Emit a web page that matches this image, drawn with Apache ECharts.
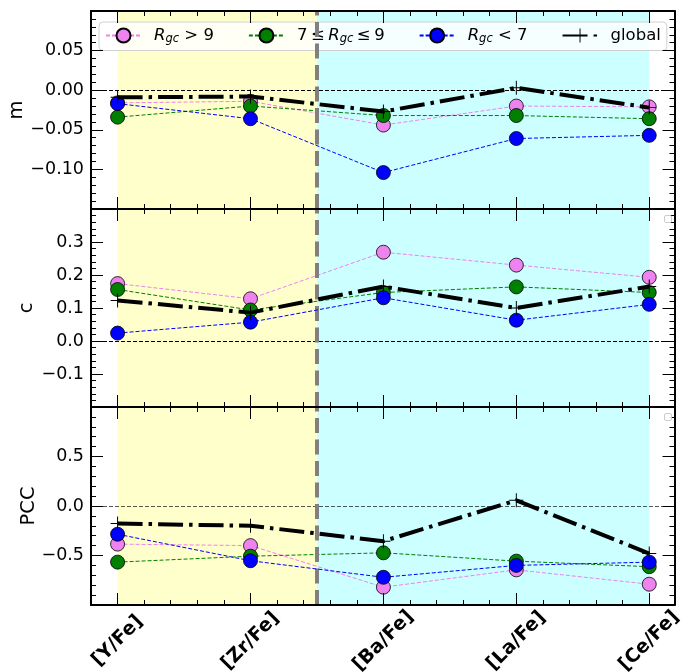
<!DOCTYPE html>
<html><head><meta charset="utf-8">
<script src="https://cdn.jsdelivr.net/npm/echarts@6/dist/echarts.min.js"></script>
<style>html,body{margin:0;padding:0;background:#fff}#c{width:685px;height:672px}</style>
</head><body><div id="c"></div>
<script>
// ---- data ----
const categories = ['[Y/Fe]', '[Zr/Fe]', '[Ba/Fe]', '[La/Fe]', '[Ce/Fe]'];
const seriesNames = ['outer', 'mid', 'inner', 'global'];

const mOuter  = [-0.016, -0.014, -0.044, -0.020, -0.021];
const mMid    = [-0.034, -0.020, -0.032, -0.032, -0.036];
const mInner  = [-0.017, -0.036, -0.104, -0.061, -0.057];
const mGlobal = [-0.009, -0.008, -0.027, 0.003, -0.022];

const cOuter  = [0.174, 0.128, 0.269, 0.230, 0.193];
const cMid    = [0.156, 0.094, 0.147, 0.164, 0.147];
const cInner  = [0.024, 0.057, 0.131, 0.063, 0.111];
const cGlobal = [0.123, 0.086, 0.165, 0.100, 0.165];

const pccOuter  = [-0.385, -0.400, -0.820, -0.645, -0.790];
const pccMid    = [-0.567, -0.507, -0.473, -0.557, -0.613];
const pccInner  = [-0.285, -0.553, -0.720, -0.600, -0.567];
const pccGlobal = [-0.177, -0.200, -0.355, 0.057, -0.480];

const yTickInfo = {
  m:   {min: -0.15, max: 0.10, interval: 0.05, digits: 2},
  c:   {min: -0.2,  max: 0.4,  interval: 0.1,  digits: 1},
  PCC: {min: -1,    max: 1,    interval: 0.5,  digits: 1}
};

// ---- layout / style ----
const FONT = 'DejaVu Sans';
const X_MIN = -0.2, X_MAX = 4.19;
const colors = ['#EE82EE', '#008000', '#0000FF'];
const PLUS = 'path://M-0.07,-1H0.07V-0.07H1V0.07H0.07V1H-0.07V0.07H-1V-0.07H-0.07Z';

const panels = [
  {name: 'm',   gap: 64, data: [mOuter, mMid, mInner, mGlobal], zero: '#000'},
  {name: 'c',   gap: 54, data: [cOuter, cMid, cInner, cGlobal], zero: '#000'},
  {name: 'PCC', gap: 52, data: [pccOuter, pccMid, pccInner, pccGlobal], zero: 'rgba(0,0,0,0.65)'}
];
const gridTops = [11, 209, 407];
const gridH = [198, 198, 198];

const majorX = categories.map((_, i) => i);
const minorX = [];
for (let k = -1; k <= 21; k++) {
  const v = +(k * 0.2).toFixed(2);
  if (v > X_MIN && v < X_MAX && Math.abs(v - Math.round(v)) > 1e-6) minorX.push(v);
}
function fmt(v, d) {
  const s = Math.abs(v).toFixed(d);
  return (v < -1e-9 ? '\u2212' : '') + s;
}

function xAx(g, pos, major, labels) {
  return {
    type: 'value', gridIndex: g, position: pos, min: X_MIN, max: X_MAX, z: 10,
    axisLine: {show: major, onZero: false, lineStyle: {color: '#000', width: 2}},
    axisTick: {show: true, inside: true, length: major ? 12 : 5,
      customValues: major ? majorX : minorX, lineStyle: {color: '#000', width: 1}},
    axisLabel: labels ? {
      show: true, customValues: majorX, formatter: v => categories[Math.round(v)],
      rotate: 45, align: 'center', verticalAlign: 'middle', margin: 36,
      fontWeight: 'bold', fontSize: 19, color: '#000', fontFamily: FONT
    } : {show: false},
    splitLine: {show: false}
  };
}
function yAx(g, p, pos, labels) {
  const t = yTickInfo[p.name];
  return {
    type: 'value', gridIndex: g, position: pos, min: t.min, max: t.max, interval: t.interval, z: 10,
    axisLine: {show: true, onZero: false, lineStyle: {color: '#000', width: 2}},
    axisTick: {show: true, inside: true, length: 12, lineStyle: {color: '#000', width: 1}},
    minorTick: {show: true, splitNumber: 5, length: 5, lineStyle: {color: '#000', width: 1}},
    axisLabel: labels ? {
      show: true, showMinLabel: false, showMaxLabel: false, margin: 7,
      fontSize: 17.5, color: '#000', fontFamily: FONT, formatter: v => fmt(v, t.digits)
    } : {show: false},
    name: labels ? p.name : '', nameLocation: 'middle', nameGap: p.gap, nameMoveOverlap: false,
    nameTextStyle: {fontSize: 19.5, color: '#000', fontFamily: FONT},
    splitLine: {show: false}, minorSplitLine: {show: false}
  };
}

const xAxis = [], yAxis = [], series = [];
panels.forEach((p, g) => {
  xAxis.push(xAx(g, 'bottom', true, g === 2));
  xAxis.push(xAx(g, 'bottom', false, false));
  xAxis.push(xAx(g, 'top', true, false));
  xAxis.push(xAx(g, 'top', false, false));
  yAxis.push(yAx(g, p, 'left', true));
  yAxis.push(yAx(g, p, 'right', false));
  const xi = g * 4, yi = g * 2;
  series.push({
    type: 'line', xAxisIndex: xi, yAxisIndex: yi, data: [], z: 1, silent: true,
    markArea: {silent: true, data: [
      [{xAxis: 0, itemStyle: {color: 'rgb(255,255,204)'}}, {xAxis: 1.5}],
      [{xAxis: 1.5, itemStyle: {color: 'rgb(204,255,255)'}}, {xAxis: 4}]
    ]},
    markLine: {silent: true, symbol: 'none', label: {show: false}, animation: false,
      data: [
        {yAxis: 0, lineStyle: {color: p.zero, width: 1, type: [4, 2]}},
        {xAxis: 1.5, lineStyle: {color: '#808080', width: 4, type: [15, 6.5]}}
      ]}
  });
  [0, 1, 2].forEach(k => series.push({
    name: seriesNames[k], type: 'line', xAxisIndex: xi, yAxisIndex: yi, z: 3 + k,
    data: p.data[k].map((v, i) => [i, v]),
    symbol: 'circle', symbolSize: 14,
    itemStyle: {color: colors[k], borderColor: '#000', borderWidth: 0.8},
    lineStyle: {color: colors[k], width: 1, type: [4, 2]},
    emphasis: {disabled: true}
  }));
  series.push({
    name: 'global', type: 'line', xAxisIndex: xi, yAxisIndex: yi, z: 7,
    data: p.data[3].map((v, i) => [i, v]),
    symbol: PLUS, symbolSize: 14,
    itemStyle: {color: '#000', borderWidth: 0},
    lineStyle: {color: '#000', width: 4, type: [25, 6, 3.5, 6], cap: 'butt'},
    emphasis: {disabled: true}
  });
});

const legendLabels = {
  outer: '{g|}{i|R}{s|gc}{t| > 9}',
  mid: '{g|}{t|7}{h|}{t|\u2264}{h|}{i|R}{s|gc}{h|}{t|\u2264}{h|}{t|9}',
  inner: '{g|}{i|R}{s|gc}{t| < 7}',
  global: '{g|}{t|global}'
};

const option = {
  animation: false,
  textStyle: {fontFamily: FONT},
  grid: gridTops.map((t, i) => ({left: 91, right: 10.5, top: t, height: gridH[i],
    containLabel: false, outerBoundsMode: 'none'})),
  xAxis, yAxis, series,
  legend: {
    data: seriesNames, left: 99, top: 22, orient: 'horizontal',
    itemWidth: 35, itemHeight: 17.5, itemGap: 34,
    padding: [5, 6, 5, 6],
    backgroundColor: 'rgba(255,255,255,0.8)', borderColor: '#d0d0d0', borderWidth: 1, borderRadius: 4,
    formatter: n => legendLabels[n],
    textStyle: {color: '#000', fontFamily: FONT, fontSize: 16.5, rich: {
      g: {width: 8},
      h: {width: 3.5},
      t: {fontSize: 16.5, fontFamily: FONT, color: '#000'},
      i: {fontSize: 16.5, fontStyle: 'italic', fontFamily: FONT, color: '#000'},
      s: {fontSize: 11.5, fontStyle: 'italic', fontFamily: FONT, color: '#000', padding: [8, 0, 0, 0]}
    }},
    selectedMode: false
  },
  graphic: [
    {type: 'rect', left: 664, top: 215, z: 100, shape: {width: 7, height: 7, r: 1.5},
      style: {fill: 'rgba(255,255,255,0.8)', stroke: '#cccccc', lineWidth: 1}},
    {type: 'rect', left: 664, top: 413, z: 100, shape: {width: 7, height: 7, r: 1.5},
      style: {fill: 'rgba(255,255,255,0.8)', stroke: '#cccccc', lineWidth: 1}}
  ]
};
const chart = echarts.init(document.getElementById('c'), null, {renderer: 'canvas'});
chart.setOption(option);
</script>
</body></html>
